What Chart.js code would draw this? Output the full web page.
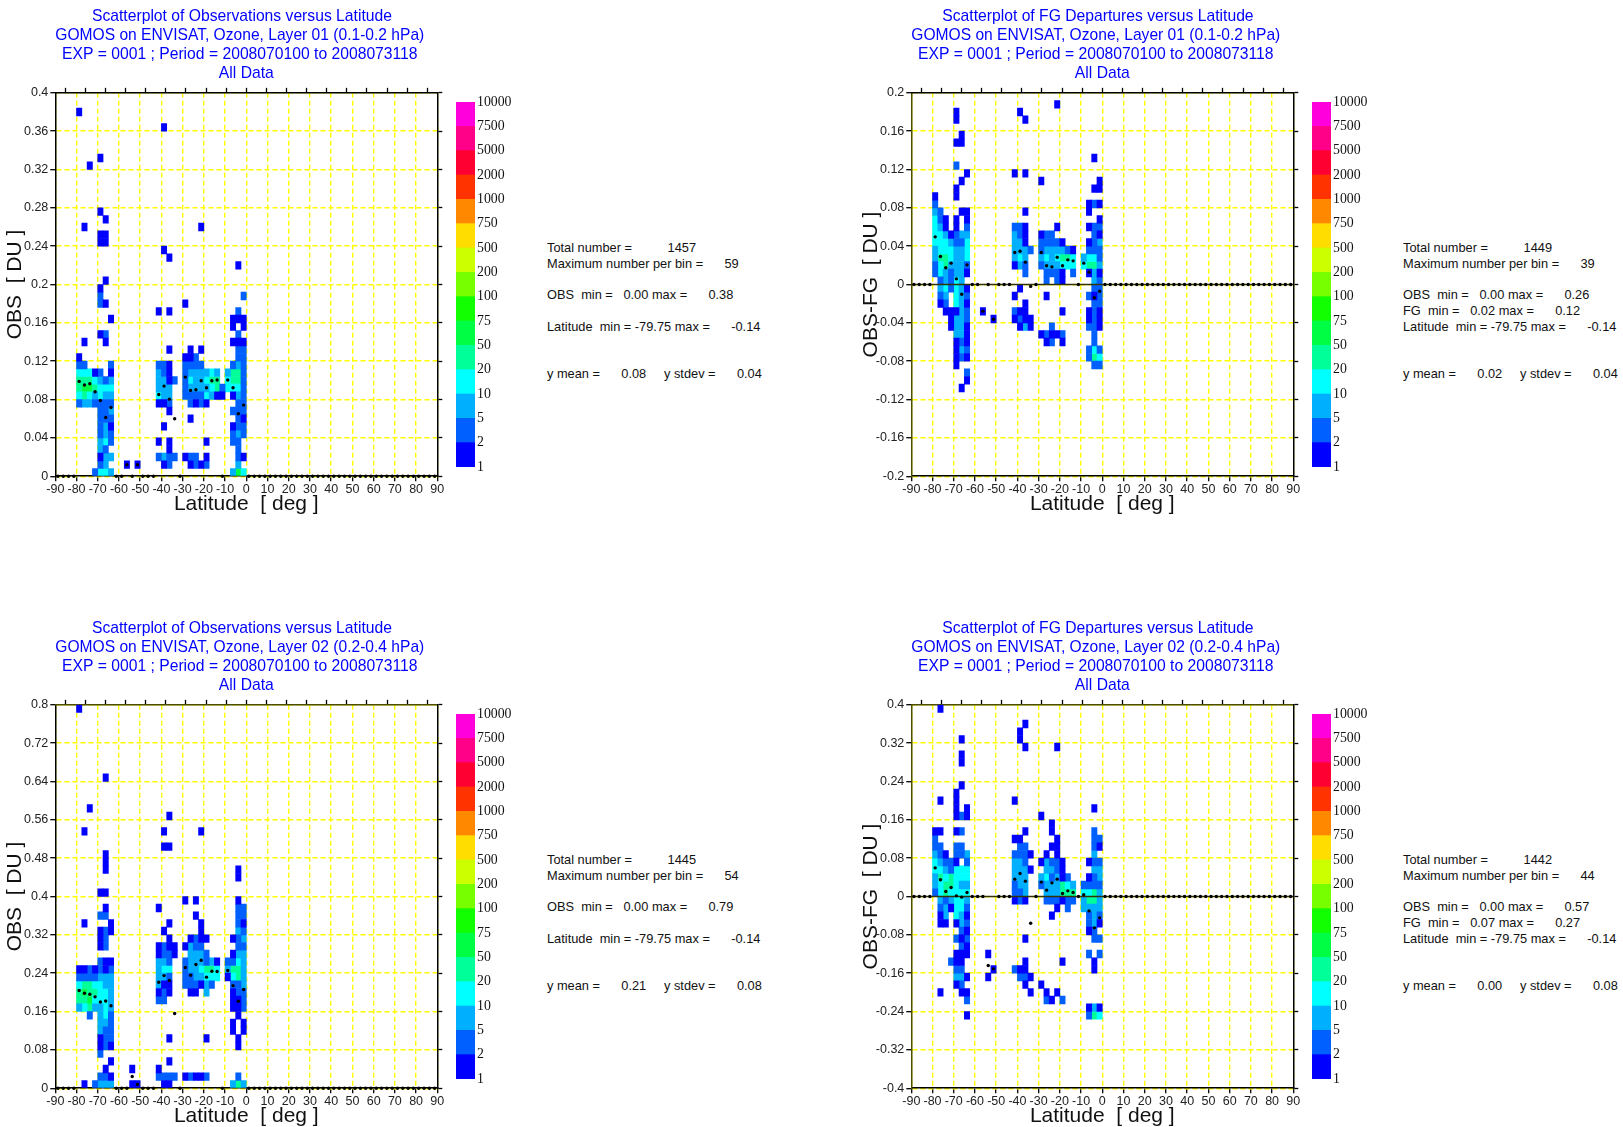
<!DOCTYPE html>
<html>
<head>
<meta charset="utf-8">
<title>GOMOS scatterplots</title>
<script src="https://cdn.jsdelivr.net/npm/chart.js@4/dist/chart.umd.min.js"></script>
<style>
html, body { margin: 0; padding: 0; background: #fff; }
#page { position: relative; width: 1623px; height: 1127px; overflow: hidden; }
canvas { position: absolute; }
.stats { position: absolute; font: 12.8px/15.72px "Liberation Sans", Arial, sans-serif; color: #111; white-space: pre; }
</style>
</head>
<body>
<div id="page"></div>
<script>
var latTicks = [-90,-80,-70,-60,-50,-40,-30,-20,-10,0,10,20,30,40,50,60,70,80,90];
var obs1Ticks = [0,0.04,0.08,0.12,0.16,0.2,0.24,0.28,0.32,0.36,0.4];
var fg1Ticks = [-0.2,-0.16,-0.12,-0.08,-0.04,0,0.04,0.08,0.12,0.16,0.2];
var obs2Ticks = [0,0.08,0.16,0.24,0.32,0.4,0.48,0.56,0.64,0.72,0.8];
var fg2Ticks = [-0.4,-0.32,-0.24,-0.16,-0.08,0,0.08,0.16,0.24,0.32,0.4];

var colorLabels = ["1","2","5","10","20","50","75","100","200","500","750","1000","2000","5000","7500","10000"];
var classColors = ["#0000ff","#0060ff","#00b0ff","#00ffff","#00ff99","#00ff44","#11ff00","#77ff00","#ccff00","#ffdd00","#ff8800","#ff3300","#ff0033","#ff0088","#ff00dd"];

// binned counts: [row from bottom of plot, {latitude bin from -90 in 2.5 deg steps: colour class}]
var obs1Cells = [
	[47,{4:1}],[45,{20:1}],[41,{8:1}],[40,{6:1}],[34,{8:1}],[33,{9:1}],[32,{5:1,27:1}],
	[31,{8:1,9:1}],[30,{8:1,9:1}],[29,{20:1}],[28,{21:1}],[27,{34:1}],[25,{9:1}],[24,{8:1}],
	[23,{8:2,35:2}],[22,{8:2,9:1,24:1}],[21,{19:1,21:1,34:2}],[20,{10:1,33:1,34:1,35:1}],
	[19,{33:1,35:1}],[18,{8:1,9:2,34:2}],[17,{5:1,9:1,33:1,34:1,35:1}],
	[16,{21:1,25:1,27:1,34:2,35:2}],[15,{4:1,24:1,25:1,26:2,34:2,35:2}],
	[14,{4:2,5:2,10:2,19:2,20:2,21:1,24:2,25:2,26:2,27:2,33:2,34:3,35:2}],
	[13,{4:4,5:4,6:4,7:1,8:2,10:1,19:3,20:2,21:1,24:2,25:3,26:3,27:3,28:3,29:4,30:3,32:3,33:5,34:5,35:2}],
	[12,{4:5,5:5,6:5,7:4,8:3,9:2,10:3,19:3,20:3,21:1,22:2,24:2,25:4,26:3,27:3,28:4,29:5,30:5,32:4,33:5,34:5,35:2}],
	[11,{4:5,5:6,6:6,7:5,8:4,9:4,10:4,19:3,20:3,21:3,24:2,25:3,26:3,27:3,28:3,29:4,30:5,31:2,32:4,33:4,34:4,35:2}],
	[10,{4:4,5:5,6:4,7:3,8:4,9:3,10:3,19:4,20:3,21:3,24:2,25:2,26:2,27:2,28:4,29:3,30:1,31:1,33:1,34:3,35:2}],
	[9,{4:2,5:3,6:3,7:2,8:2,9:2,10:2,19:1,20:1,21:2,25:2,26:1,27:2,28:1,34:2,35:2}],
	[8,{8:2,9:2,10:3,21:1,33:2,34:2,35:2}],[7,{8:2,9:2,10:2,25:1,34:2,35:1}],
	[6,{8:2,9:3,10:1,20:1,33:1,34:2,35:2}],[5,{8:2,9:3,10:2,33:2,34:3,35:2}],
	[4,{8:3,9:4,10:2,19:1,21:1,28:1,33:2,34:2}],[3,{8:3,9:2,21:1,34:2}],
	[2,{8:1,9:3,10:3,19:2,20:3,21:2,22:2,24:1,25:2,26:2,28:1,34:2,35:1}],
	[1,{8:2,9:3,13:1,15:1,20:1,21:2,25:1,26:2,27:1,28:2,34:3}],
	[0,{7:2,8:4,9:4,10:3,33:3,34:6,35:4}]
];
var fg1Cells = [
	[48,{27:1}],[47,{8:1,20:1}],[46,{8:1,21:1}],[44,{9:1}],[43,{8:1,9:1}],[41,{34:1}],[40,{8:2}],
	[39,{10:1,19:1,21:1}],[38,{9:1,24:1,35:1}],[37,{8:1,34:1,35:1}],[36,{4:1,8:1}],
	[35,{4:2,33:1,34:2,35:1}],[34,{4:3,5:2,9:1,10:1,21:1,33:1}],[33,{4:4,5:2,6:1,8:1,10:1,35:1}],
	[32,{4:4,5:3,6:1,8:1,10:2,19:2,20:2,21:1,27:1,33:1,34:2,35:2}],
	[31,{4:4,5:4,6:3,7:1,8:2,9:3,10:3,19:3,20:2,21:1,24:1,25:2,26:2,34:2,35:1}],
	[30,{4:4,5:4,6:4,7:3,8:2,9:2,10:4,19:3,20:3,21:1,24:2,25:2,26:2,27:2,28:1,33:1,34:2,35:3}],
	[29,{4:3,5:4,6:4,7:4,8:3,9:3,10:4,19:3,20:3,21:3,22:2,24:2,25:3,26:3,27:3,28:3,29:2,30:1,33:2,34:2,35:2}],
	[28,{4:3,5:5,6:5,7:4,8:3,9:3,10:4,19:3,20:4,21:3,24:3,25:4,26:3,27:4,28:5,29:5,30:4,32:3,33:4,34:4,35:2}],
	[27,{4:2,5:4,6:5,7:3,8:3,9:3,10:2,19:1,20:3,21:2,24:2,25:3,26:3,27:3,28:4,29:4,30:4,32:4,33:5,34:5,35:3}],
	[26,{4:2,5:4,6:3,7:2,8:3,9:3,10:1,21:2,25:2,26:2,27:2,28:1,30:2,33:1,34:3,35:1}],
	[25,{5:2,6:3,7:2,8:4,9:3,25:2,27:2,28:1,34:3,35:2}],
	[24,{5:3,6:4,7:2,8:4,9:3,10:1,20:1,34:2,35:2}],
	[23,{5:2,6:3,8:4,9:3,10:2,19:1,25:1,33:2,34:1,35:2}],
	[22,{5:1,6:2,8:4,9:3,10:1,21:1,34:2,35:2}],
	[21,{6:1,7:1,8:1,9:3,10:2,13:1,19:2,20:1,21:1,28:1,33:1,34:2,35:1}],
	[20,{7:1,8:3,9:3,10:2,15:1,19:1,20:2,21:1,22:1,33:1,34:2,35:1}],
	[19,{7:1,8:3,9:3,10:1,20:1,21:3,22:1,26:2,33:2,34:2,35:1}],
	[18,{8:3,9:3,10:1,24:1,25:2,26:1,27:1,28:2,34:2}],
	[17,{8:1,9:2,10:1,25:1,26:2,28:1,34:2}],
	[16,{8:1,9:3,10:2,33:2,34:4,35:2}],
	[15,{8:1,9:2,10:1,33:2,34:5,35:4}],
	[14,{8:1,34:2,35:2}],[13,{10:2}],[12,{10:1}],[11,{9:1}]
];
var obs2Cells = [
	[49,{4:1}],[40,{9:1}],[36,{6:1}],[35,{21:1}],[33,{5:1,20:1,27:1}],[31,{20:1,21:1}],
	[30,{9:1}],[29,{9:1}],[28,{9:1,34:1}],[27,{34:1}],[25,{8:1,9:1}],
	[24,{24:1,26:1,34:1}],[23,{9:1,19:1,34:2,35:2}],[22,{8:2,9:2,26:1,34:2,35:2}],
	[21,{5:1,10:1,21:1,27:1,34:2,35:1}],[20,{8:1,9:2,10:1,20:1,27:1,34:3,35:2}],
	[19,{8:1,9:2,21:1,25:1,26:2,27:1,28:1,33:1,34:2,35:3}],
	[18,{8:1,9:2,19:1,20:2,21:1,22:1,24:1,25:3,26:2,27:2,34:2,35:2}],
	[17,{19:1,20:2,21:2,22:1,25:3,26:3,27:3,28:2,33:1,34:3,35:3}],
	[16,{8:2,9:1,10:1,19:3,20:3,21:2,24:2,25:3,26:3,27:3,28:2,29:3,30:1,32:2,33:2,34:4,35:3}],
	[15,{4:1,5:1,6:2,7:1,8:2,9:1,10:2,19:3,20:4,21:4,24:2,25:3,26:3,27:4,28:5,29:5,30:4,32:3,33:5,34:5,35:3}],
	[14,{4:2,5:2,6:2,7:2,8:3,9:3,10:3,19:3,20:3,21:2,24:2,25:2,26:3,27:3,28:4,29:4,30:4,32:1,33:4,34:5,35:3}],
	[13,{4:4,5:5,6:5,7:4,8:4,9:3,10:3,19:3,20:1,21:1,24:2,25:2,26:2,27:1,28:3,29:2,33:2,34:2,35:3}],
	[12,{4:5,5:6,6:5,7:5,8:4,9:4,10:3,19:1,20:2,21:1,25:1,26:1,28:3,33:1,34:2,35:2}],
	[11,{4:5,5:5,6:6,7:4,8:4,9:4,10:3,19:2,20:2,33:1,34:1,35:2}],
	[10,{4:3,5:4,6:5,7:3,8:3,9:4,10:3,33:1,34:1,35:2}],
	[9,{6:2,8:3,9:4,10:2,34:1}],[8,{8:3,9:3,10:2,33:1,35:1}],[7,{8:3,9:2,10:2,33:1,35:1}],
	[6,{8:1,9:2,10:2,21:1,28:1,34:1}],[5,{8:1,9:2,10:1,34:1}],[4,{8:2}],[3,{10:1,21:1}],
	[2,{9:1,14:1,19:1}],
	[1,{8:2,9:2,10:1,19:2,20:2,21:2,22:2,24:1,25:2,26:1,27:1,28:2,34:2}],
	[0,{5:1,7:2,8:3,9:3,10:3,14:1,15:1,20:1,21:1,33:3,34:5,35:3}]
];
var fg2Cells = [
	[49,{5:1}],[47,{21:1}],[46,{20:1}],[45,{9:1,20:1}],[44,{21:1,27:1}],[43,{9:1}],[42,{9:1}],
	[39,{9:1}],[38,{8:1}],[37,{5:1,8:1,19:1}],[36,{8:1,10:1,34:1}],
	[35,{8:1,9:2,10:1,24:1}],[34,{26:1}],[33,{4:1,5:1,8:1,9:2,21:1,26:1,34:2}],
	[32,{4:2,19:1,20:1,27:1,34:2,35:2}],[31,{4:2,5:2,8:2,9:2,20:2,21:2,26:1,27:1,34:2,35:1}],
	[30,{4:3,5:2,6:1,8:2,9:2,10:3,19:2,20:2,21:2,22:1,25:1,27:1,34:3}],
	[29,{4:4,5:3,6:2,7:2,8:1,10:2,19:3,20:3,21:2,24:1,25:3,26:2,27:2,28:1,33:1,34:2,35:2}],
	[28,{4:4,5:4,6:3,7:2,8:4,9:4,10:4,19:3,20:3,21:3,22:1,25:3,26:3,27:2,28:1,34:3,35:3}],
	[27,{4:3,5:5,6:4,7:5,8:4,9:4,10:4,19:3,20:3,21:3,24:3,25:4,26:2,27:3,28:1,29:2,33:1,34:2,35:3}],
	[26,{4:3,5:4,6:5,7:5,8:4,9:3,10:3,19:2,20:3,21:3,24:2,25:3,26:3,27:3,28:5,29:4,30:3,32:2,33:2,34:2,35:2}],
	[25,{4:2,5:4,6:5,7:4,8:4,9:4,10:4,19:2,20:2,21:3,25:3,26:3,27:3,28:5,29:5,30:5,32:4,33:4,34:5,35:3}],
	[24,{5:3,6:2,7:3,8:4,9:4,10:3,19:1,20:2,21:1,25:2,26:2,27:2,28:1,29:2,30:2,32:3,33:5,34:5,35:3}],
	[23,{5:2,6:3,7:1,8:4,9:4,10:2,27:1,29:2,32:3,33:3,34:3,35:3}],
	[22,{5:1,6:3,8:4,9:3,10:1,26:1,33:2,34:3,35:2}],
	[21,{5:1,6:1,8:1,9:3,10:2,33:2,34:3,35:1}],[20,{9:2,10:1,33:1,34:2}],
	[19,{8:2,9:1,10:2,21:1,34:2,35:2}],[18,{9:2,10:1}],
	[17,{8:1,9:1,10:1,14:1,33:2,35:2}],[16,{7:2,8:1,9:1,21:1,28:1,34:1}],
	[15,{8:2,9:2,15:1,19:2,20:1,21:1,34:1}],[14,{8:3,9:3,10:1,14:1,20:2,21:2,22:1}],
	[13,{8:1,9:2,21:1,24:1}],[12,{5:1,9:1,10:1,22:1,25:1,27:1}],
	[11,{10:2,25:2,26:1,28:2}],[10,{33:1,34:3,35:1}],[9,{10:1,33:2,34:5,35:4}]
];

// mean y per latitude bin, first 36 bins (the northern bins are all zero)
var obs1Means = [0,0,0,0,0.0989,0.0951,0.0965,0.0881,0.079,0.0613,0.0717,0,0,0.012,0,0.012,0,0,0,0.0853,0.094,0.0804,0.0599,0,0.1034,0.0895,0.0902,0.0996,0.0923,0.0996,0.1003,0,0.1003,0.0923,0.0651,0.0742];
var fg1Means = [0,0,0,0,0.0497,0.0292,0.0174,0.0223,0.0059,-0.0101,0.0205,0,0,-0.0278,0,-0.0362,0,0,0,0.0334,0.0348,0.0233,-0.002,0,0.0334,0.0195,0.0184,0.0285,0.0195,0.0257,0.0247,0,0.0223,0.0129,-0.0139,-0.007];
var obs2Means = [0,0,0,0,0.2038,0.198,0.196,0.1906,0.18,0.182,0.172,0,0,0,0.0243,0.0077,0,0,0,0.221,0.235,0.2247,0.1558,0,0.2518,0.2358,0.258,0.267,0.2317,0.244,0.2435,0,0.2456,0.214,0.1816,0.206];
var fg2Means = [0,0,0,0,0.0598,0.0348,0.0104,0.0188,0.0014,-0.0014,0.0083,0,0,0,-0.144,-0.151,0,0,0,0.0362,0.048,0.032,-0.0557,0,0.03,0.0132,0.0285,0.0362,0.0063,0.0118,0.0083,0,0.0035,-0.03,-0.0654,-0.0445];

// trailing blanks keep the long lines a little left of the axis centre, as in the original
var obs1Title = ["Scatterplot of Observations versus Latitude  ","GOMOS on ENVISAT, Ozone, Layer 01 (0.1-0.2 hPa)   ","EXP = 0001 ; Period = 2008070100 to 2008073118   ","All Data"];
var fg1Title = ["Scatterplot of FG Departures versus Latitude  ","GOMOS on ENVISAT, Ozone, Layer 01 (0.1-0.2 hPa)   ","EXP = 0001 ; Period = 2008070100 to 2008073118   ","All Data"];
var obs2Title = ["Scatterplot of Observations versus Latitude  ","GOMOS on ENVISAT, Ozone, Layer 02 (0.2-0.4 hPa)   ","EXP = 0001 ; Period = 2008070100 to 2008073118   ","All Data"];
var fg2Title = ["Scatterplot of FG Departures versus Latitude  ","GOMOS on ENVISAT, Ozone, Layer 02 (0.2-0.4 hPa)   ","EXP = 0001 ; Period = 2008070100 to 2008073118   ","All Data"];

var obs1Stats = ["Total number =          1457","Maximum number per bin =      59","","OBS  min =   0.00 max =      0.38","","Latitude  min = -79.75 max =      -0.14","","","y mean =      0.08     y stdev =      0.04"];
var fg1Stats = ["Total number =          1449","Maximum number per bin =      39","","OBS  min =   0.00 max =      0.26","FG  min =   0.02 max =      0.12","Latitude  min = -79.75 max =      -0.14","","","y mean =      0.02     y stdev =      0.04"];
var obs2Stats = ["Total number =          1445","Maximum number per bin =      54","","OBS  min =   0.00 max =      0.79","","Latitude  min = -79.75 max =      -0.14","","","y mean =      0.21     y stdev =      0.08"];
var fg2Stats = ["Total number =          1442","Maximum number per bin =      44","","OBS  min =   0.00 max =      0.57","FG  min =   0.07 max =      0.27","Latitude  min = -79.75 max =      -0.14","","","y mean =      0.00     y stdev =      0.08"];

var sansFont = '"Liberation Sans", Arial, sans-serif';
var serifFont = '"Liberation Serif", "Times New Roman", serif';
var page = document.getElementById("page");

function addCanvas(left, top, w, h) {
	var c = document.createElement("canvas");
	c.width = w;
	c.height = h;
	c.style.left = left + "px";
	c.style.top = top + "px";
	c.style.width = w + "px";
	c.style.height = h + "px";
	page.appendChild(c);
	return c;
}

function cellDatasets(cells, yMin, yMax) {
	var rowStep = (yMax - yMin) / 50;
	return classColors.map(function(color, i) {
		var points = [];
		cells.forEach(function(row) {
			for (var bin in row[1]) {
				if (row[1][bin] == i + 1) {
					points.push({x: -90 + 2.5 * bin + 1.25, y: [yMin + row[0] * rowStep, yMin + (row[0] + 1) * rowStep]});
				}
			}
		});
		return {type: "bar", data: points, backgroundColor: color, grouped: false, barPercentage: 1, categoryPercentage: 1, order: 5};
	}).filter(function(d) { return d.data.length > 0; });
}

function meanPoints(means) {
	var points = [];
	for (var k = 0; k < 72; k++) {
		points.push({x: -90 + 2.5 * k + 1.25, y: means[k] || 0});
	}
	return points;
}

function drawPanel(left, top, p) {
	var canvas = addCanvas(left, top, 484, 520);
	var yMin = p.ticks[0], yMax = p.ticks[p.ticks.length - 1];
	var datasets = cellDatasets(p.cells, yMin, yMax);
	datasets.push({type: "scatter", data: meanPoints(p.means), pointRadius: 1.7, pointBackgroundColor: "#000", pointBorderWidth: 0, clip: false, order: 0});
	if (yMin < 0) {
		// zero reference line of the departure plots
		datasets.push({type: "line", data: [{x: -90, y: 0}, {x: 90, y: 0}], borderColor: "#333300", borderWidth: 1.5, pointRadius: 0, order: 1});
	}
	var tickFont = {family: sansFont, size: 12.5};
	var grid = {color: "#ffff00", lineWidth: 1.4, tickColor: "#000", tickLength: 5, tickWidth: 1.3, offset: false};
	var hiddenGrid = {drawOnChartArea: false, tickColor: "#000", tickLength: 5, tickWidth: 1.3, offset: false};
	return new Chart(canvas.getContext("2d"), {
		type: "bar",
		data: {datasets: datasets},
		options: {
			responsive: false,
			animation: false,
			events: [],
			layout: {padding: {right: 41.7}},
			plugins: {
				legend: {display: false},
				tooltip: {enabled: false},
				title: {display: true, fullSize: false, text: p.title, color: "#0000ff", font: {family: sansFont, size: 15.7, weight: "normal", lineHeight: "19px"}, padding: {top: 7, bottom: 4.8}}
			},
			scales: {
				x: {
					type: "linear", min: -90, max: 90, offset: false, position: "bottom", grid: grid,
					border: {color: "#000", width: 1.5, dash: [5, 3]},
					afterBuildTicks: function(s) { s.ticks = latTicks.map(function(v) { return {value: v}; }); },
					afterFit: function(s) { s.height = 43.8; },
					ticks: {font: tickFont, color: "#222", padding: 1, autoSkip: false, maxRotation: 0, minRotation: 0, callback: function(v) { return String(v); }},
					title: {display: true, text: "Latitude  [ deg ]", color: "#111", font: {family: sansFont, size: 21, lineHeight: "24px"}, padding: {top: 0, bottom: 4}}
				},
				y: {
					type: "linear", min: yMin, max: yMax, position: "left", grid: grid,
					border: {color: yMin < 0 ? "#4d4d00" : "#000", width: 1.5, dash: [5, 3]},
					afterBuildTicks: function(s) { s.ticks = p.ticks.map(function(v) { return {value: v}; }); },
					afterFit: function(s) { s.width = 55.3; },
					ticks: {font: tickFont, color: "#222", padding: 2, autoSkip: false, callback: function(v) { return String(parseFloat(v.toFixed(2))); }},
					title: {display: true, text: p.yTitle, color: "#111", font: {family: sansFont, size: 21, lineHeight: "24px"}, padding: {top: 3.5, bottom: 0}}
				},
				x2: {
					type: "linear", axis: "x", min: -90, max: 90, position: "top", grid: hiddenGrid,
					border: {color: p.topColor, width: 1.5},
					afterBuildTicks: function(s) { s.ticks = latTicks.map(function(v) { return {value: v}; }); },
					afterFit: function(s) { s.height = 5; },
					ticks: {display: false}
				},
				y2: {
					type: "linear", axis: "y", min: yMin, max: yMax, position: "right", grid: hiddenGrid,
					border: {color: "#000", width: 1.5},
					afterBuildTicks: function(s) { s.ticks = p.ticks.map(function(v) { return {value: v}; }); },
					afterFit: function(s) { s.width = 5; },
					ticks: {display: false}
				}
			}
		}
	});
}

function drawColorbar(left, top) {
	var canvas = addCanvas(left, top, 80, 393);
	var datasets = classColors.map(function(color, i) {
		return {data: [1], backgroundColor: color, barPercentage: 1, categoryPercentage: 1};
	});
	return new Chart(canvas.getContext("2d"), {
		type: "bar",
		data: {labels: ["counts"], datasets: datasets},
		options: {
			responsive: false,
			animation: false,
			events: [],
			layout: {padding: {top: 14, bottom: 14}},
			plugins: {legend: {display: false}, tooltip: {enabled: false}, title: {display: false}},
			scales: {
				x: {display: false, stacked: true},
				y: {
					stacked: true, position: "right", min: 0, max: 15,
					grid: {display: false, drawTicks: false},
					border: {display: false},
					afterFit: function(s) { s.width = 61; },
					afterBuildTicks: function(s) { s.ticks = colorLabels.map(function(v, i) { return {value: i}; }); },
					ticks: {font: {family: serifFont, size: 13.8}, color: "#111", padding: 2, autoSkip: false, callback: function(v) { return colorLabels[v]; }}
				}
			}
		}
	});
}

function drawStats(left, top, lines) {
	var box = document.createElement("div");
	box.className = "stats";
	box.style.left = left + "px";
	box.style.top = top + "px";
	box.textContent = lines.join("\n");
	page.appendChild(box);
}

drawPanel(0, 0, {title: obs1Title, ticks: obs1Ticks, cells: obs1Cells, means: obs1Means, yTitle: "OBS  [ DU ]", topColor: "#000"});
drawPanel(856, 0, {title: fg1Title, ticks: fg1Ticks, cells: fg1Cells, means: fg1Means, yTitle: "OBS-FG  [ DU ]", topColor: "#000"});
drawPanel(0, 612, {title: obs2Title, ticks: obs2Ticks, cells: obs2Cells, means: obs2Means, yTitle: "OBS  [ DU ]", topColor: "#4d4d00"});
drawPanel(856, 612, {title: fg2Title, ticks: fg2Ticks, cells: fg2Cells, means: fg2Means, yTitle: "OBS-FG  [ DU ]", topColor: "#4d4d00"});

drawColorbar(456, 88);
drawColorbar(1312, 88);
drawColorbar(456, 700);
drawColorbar(1312, 700);

drawStats(547, 240, obs1Stats);
drawStats(1403, 240, fg1Stats);
drawStats(547, 852, obs2Stats);
drawStats(1403, 852, fg2Stats);
</script>
</body>
</html>
